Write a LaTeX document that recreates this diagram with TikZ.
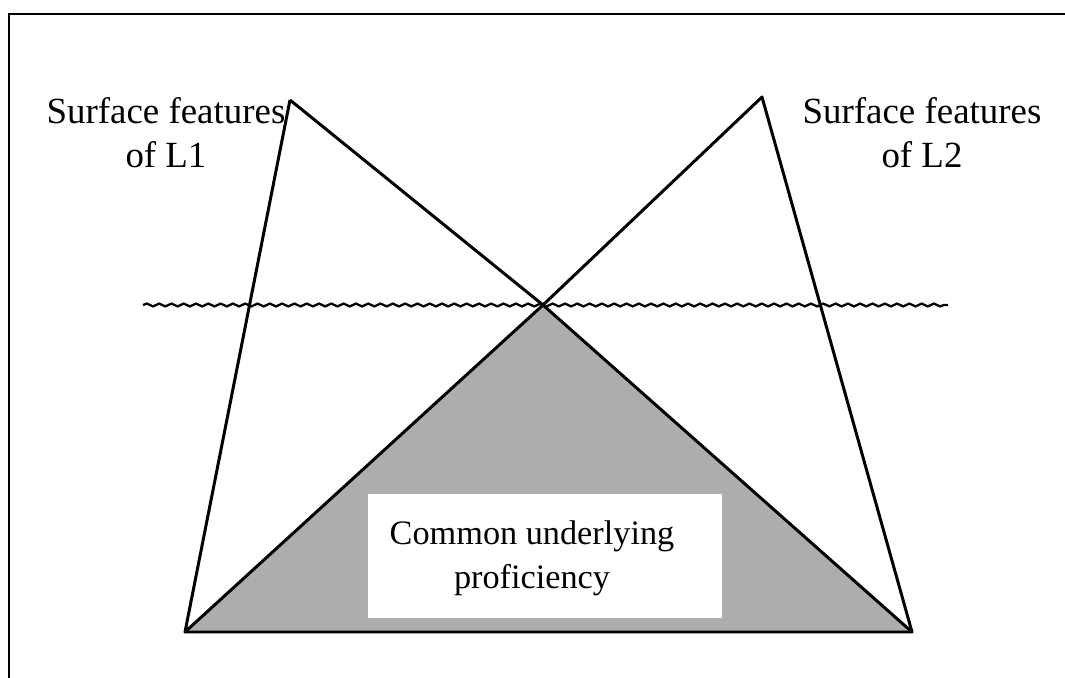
\documentclass[tikz,border=0pt]{standalone}
\usepackage{fontspec}
\setmainfont{Liberation Serif}
\usetikzlibrary{decorations.pathmorphing}

\begin{document}
\begin{tikzpicture}[x=0.02cm,y=-0.02cm]
\useasboundingbox (0,0) rectangle (1065,678);
\tikzset{edge/.style={line width=1.7pt, color=black, line join=round},
         label/.style={align=center, font=\fontsize{21}{25}\selectfont},
         wave/.style={line width=1.3pt, decorate, decoration={snake, amplitude=0.8pt, segment length=7pt}}}
\draw[line width=1.1pt] (9,678) -- (9,14) -- (1065,14);
\coordinate (apexL) at (290,100);
\coordinate (apexR) at (762,97);
\coordinate (cross) at (543,305);
\coordinate (baseL) at (185,632);
\coordinate (baseR) at (912,632);
\coordinate (waveL) at (143,305);
\coordinate (waveR) at (948,305);
\fill[color=black!32] (cross) -- (baseL) -- (baseR) -- cycle;
\draw[wave] (waveL) -- (waveR);
\draw[edge] (apexL) -- (baseL) -- (baseR) -- (apexR) -- (cross) -- (baseL);
\draw[edge] (apexL) -- (cross) -- (baseR);
\node[fill=white, minimum width=354*0.02cm, minimum height=123*0.02cm] (box) at (545,556) {};
\node[label, font=\fontsize{19.5}{25}\selectfont] (cup) at (532,558) {Common underlying\\proficiency};
\node[label] (sfL) at (166,133) {Surface features\\of L1};
\node[label] (sfR) at (922,133) {Surface features\\of L2};
\end{tikzpicture}
\end{document}
